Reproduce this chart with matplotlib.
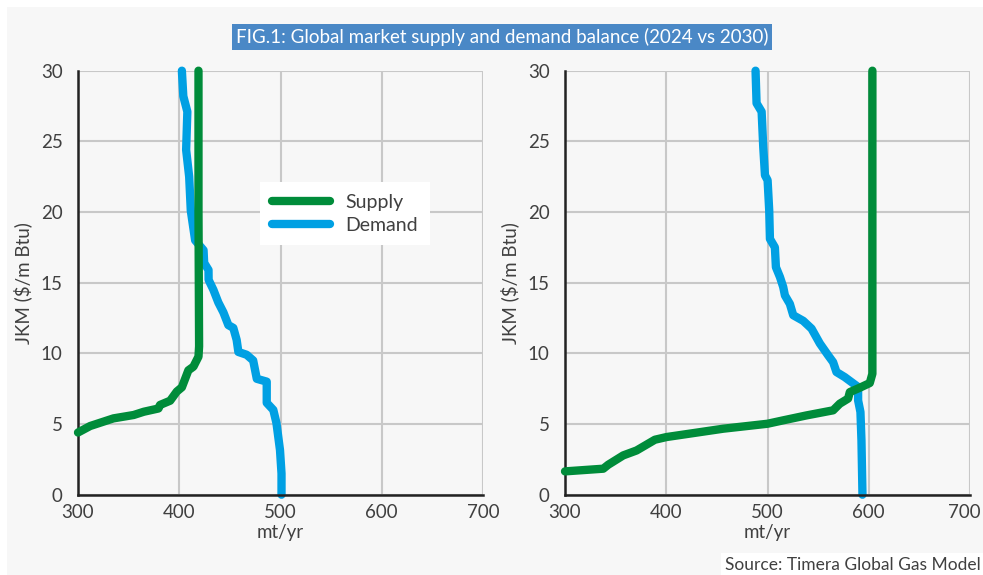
import matplotlib.pyplot as plt
import matplotlib.transforms as mtransforms
from matplotlib.patches import Rectangle

plt.rcParams['font.family'] = ['Lato', 'DejaVu Sans']

# 2024 curves (volume mt/yr, price $/mmBtu)
supply_2024_x = [300, 312, 335, 355, 365, 379.5, 381, 391, 397.6, 402.6, 405.8, 409, 414, 419, 419.6, 419, 419]
supply_2024_y = [4.4, 4.86, 5.4, 5.64, 5.87, 6.1, 6.35, 6.65, 7.3, 7.6, 8.2, 8.8, 9.06, 9.77, 10.5, 20, 30]
demand_2024_x = [402.6, 404, 408, 406.8, 409.8, 411.4, 415.7, 424, 424.6, 428.9, 429, 433.7, 438.6, 443.6,
                 448.5, 453.4, 456.7, 458.4, 466.6, 473, 476.6, 486.4, 486.4, 492.9, 496, 499.5, 501, 501]
demand_2024_y = [30, 28.2, 27.1, 24.4, 22.5, 20.1, 18.0, 17.3, 16.4, 15.9, 15.2, 14.5, 13.6, 12.9,
                 12.0, 11.8, 10.95, 10.1, 9.9, 9.5, 8.2, 8.0, 6.5, 6.0, 5.07, 3.16, 1.5, 0]

# 2030 curves
supply_2030_x = [300, 337.8, 342.7, 357.5, 370.7, 388.8, 400.3, 456.3, 500, 515.4, 538.5, 564.8, 571.4,
                 579.6, 581.3, 591.2, 601, 603.6, 603.6]
supply_2030_y = [1.65, 1.84, 2.12, 2.78, 3.13, 3.89, 4.08, 4.67, 5.02, 5.26, 5.61, 5.97, 6.44,
                 6.8, 7.26, 7.57, 7.9, 8.56, 30]
demand_2030_x = [488.2, 489.2, 494.2, 495.8, 497.5, 500.1, 501.7, 502.4, 507.3, 508.3, 512.3, 515.5, 517.2,
                 522.1, 525.4, 535.3, 543.5, 551.7, 559.9, 564.8, 568.1, 576.3, 582.9, 589.5, 589.5, 591.8,
                 592.8, 593.8]
demand_2030_y = [30, 27.7, 27.1, 24.6, 22.6, 22.25, 20.1, 18.1, 17.5, 16.1, 15.4, 14.7, 14.1,
                 13.5, 12.7, 12.3, 11.75, 10.7, 9.86, 9.38, 8.68, 8.32, 7.97, 7.62, 6.67, 5.85,
                 3.84, 0]

x_ticks = [300, 400, 500, 600, 700]
y_ticks = [0, 5, 10, 15, 20, 25, 30]

green = '#008c3a'
blue = '#00a0e3'
text_col = '#404040'

fig = plt.figure(figsize=(9.83, 5.75), dpi=100, facecolor='white')
fig.patches.append(Rectangle((7 / 983, 0), 1, 1 - 7 / 575, transform=fig.transFigure,
                             facecolor='#f7f7f7', edgecolor='none', zorder=-5))
# white strip behind the source note
fig.patches.append(Rectangle((721 / 983, 0), 1, 22 / 575, transform=fig.transFigure,
                             facecolor='white', edgecolor='none', zorder=-4))

def draw_panel(ax, sx, sy, dx, dy, legend=False):
    ax.set_facecolor('#f7f7f7')
    ax.plot(sx, sy, color=green, lw=6, solid_capstyle='round', solid_joinstyle='round', label='Supply', zorder=3)
    ax.plot(dx, dy, color=blue, lw=6, solid_capstyle='round', solid_joinstyle='round', label='Demand', zorder=2)
    ax.set_xlim(300, 700)
    ax.set_ylim(0, 30)
    ax.set_xticks(x_ticks)
    ax.set_yticks(y_ticks)
    ax.grid(True, color='#c8c8c8', lw=1.5)
    ax.set_axisbelow(True)
    for s in ['top', 'right']:
        ax.spines[s].set_visible(False)
    for s in ['left', 'bottom']:
        ax.spines[s].set_color('#222222')
        ax.spines[s].set_linewidth(1.8)
    ax.tick_params(length=0, labelsize=13.5, labelcolor=text_col)
    ax.tick_params(axis='y', pad=11)
    ax.tick_params(axis='x', pad=7)
    ax.set_xlabel('mt/yr', fontsize=13.5, color=text_col, labelpad=2)
    ax.set_ylabel('JKM ($/m Btu)', fontsize=13.5, color=text_col, labelpad=6)
    for l in ax.get_lines():
        l.set_clip_on(False)
    if legend:
        leg = ax.legend(loc='upper left', bbox_to_anchor=(0.425, 0.76), fontsize=14, frameon=True,
                        fancybox=False, edgecolor='none', facecolor='white', framealpha=1,
                        handlelength=3.0, labelcolor=text_col, borderpad=0.6, labelspacing=0.3)
        for h in leg.get_lines():
            h.set_solid_capstyle('round')

ax1 = fig.add_axes([78 / 983, 1 - 494.7 / 575, 405 / 983, 424 / 575])
ax2 = fig.add_axes([565 / 983, 1 - 494.7 / 575, 405 / 983, 424 / 575])
draw_panel(ax1, supply_2024_x, supply_2024_y, demand_2024_x, demand_2024_y, legend=True)
draw_panel(ax2, supply_2030_x, supply_2030_y, demand_2030_x, demand_2030_y)

# keep the last tick label of the right panel inside the figure
last = ax2.get_xticklabels()[-1]
last.set_transform(last.get_transform() + mtransforms.ScaledTranslation(-6 / 100, 0, fig.dpi_scale_trans))

fig.text(502 / 983, 1 - 37 / 575, 'FIG.1: Global market supply and demand balance (2024 vs 2030)',
         ha='center', va='center', color='white', fontsize=13.5,
         bbox=dict(facecolor='#4a88c6', edgecolor='none', pad=3))
fig.text(725 / 983, 1 - 565 / 575, 'Source: Timera Global Gas Model', ha='left', va='center',
         color=text_col, fontsize=12.5)

fig.savefig('out.png', dpi=100, facecolor=fig.get_facecolor())
